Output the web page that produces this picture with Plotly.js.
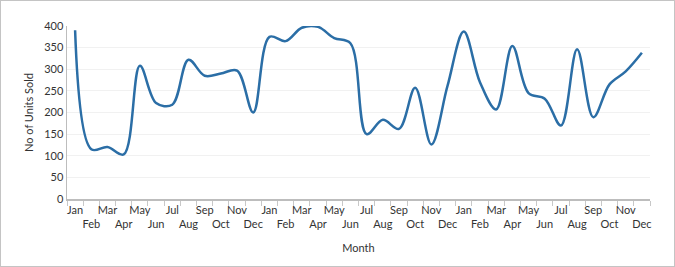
<!DOCTYPE html>
<html>
<head>
<meta charset="utf-8">
<script src="https://cdn.plot.ly/plotly-3.0.1.min.js"></script>
<style>
  html, body { margin: 0; padding: 0; background: #fff; }
  #wrap { width: 675px; height: 267px; box-sizing: border-box; border: 1px solid #c4c4c4; position: relative; overflow: hidden; }
  #chart { position: absolute; left: -1px; top: -1px; width: 675px; height: 267px; }
</style>
</head>
<body>
<div id="wrap"><div id="chart"></div></div>
<script>
// Month labels for three consecutive years
const monthLabels = ["Jan","Feb","Mar","Apr","May","Jun","Jul","Aug","Sep","Oct","Nov","Dec",
                     "Jan","Feb","Mar","Apr","May","Jun","Jul","Aug","Sep","Oct","Nov","Dec",
                     "Jan","Feb","Mar","Apr","May","Jun","Jul","Aug","Sep","Oct","Nov","Dec"];
// Units sold per month
const unitsSold = [390,115,120,103,308,222,218,322,285,290,297,200,
                   375,365,396,398,372,360,150,183,162,257,126,262,
                   387,270,207,354,245,232,170,346,189,265,295,338];
const yTickVals = [0,50,100,150,200,250,300,350,400];

const xIds = monthLabels.map((m, i) => m + "-" + i);
const tickText = monthLabels.map((m, i) => (i % 2 === 0 ? m : "<br>" + m));

const fontFam = "Lato, 'Open Sans', sans-serif";

const trace = {
  x: xIds,
  y: unitsSold,
  type: "scatter",
  mode: "lines",
  line: { color: "#2b6ea6", width: 2.5, shape: "spline", smoothing: 1 },
  cliponaxis: false,
  hoverinfo: "x+y"
};

const layout = {
  width: 675, height: 267,
  margin: { l: 67, r: 25, t: 26, b: 68 },
  paper_bgcolor: "#fff", plot_bgcolor: "#fff",
  showlegend: false,
  font: { family: fontFam, size: 11, color: "#333" },
  xaxis: {
    type: "category",
    range: [-0.5, monthLabels.length - 0.5],
    tickmode: "array",
    tickvals: xIds,
    ticktext: tickText,
    tickson: "boundaries",
    ticks: "outside", ticklen: 5, tickcolor: "#c8c8c8", tickwidth: 1,
    showline: true, linecolor: "#bdbdbd", linewidth: 1.5,
    showgrid: false, zeroline: false,
    tickangle: 0,
    tickfont: { family: fontFam, size: 11, color: "#333" },
    title: { text: "Month", font: { family: fontFam, size: 11, color: "#333" }, standoff: 15 },
    automargin: false
  },
  yaxis: {
    range: [0, 400],
    tickmode: "array", tickvals: yTickVals,
    showline: true, linecolor: "#bdbdbd", linewidth: 1.5,
    showgrid: true, gridcolor: "#f1f1f1", gridwidth: 1,
    zeroline: false,
    ticks: "", ticklen: 0,
    tickfont: { family: fontFam, size: 11, color: "#333" },
    title: { text: "No of Units Sold", font: { family: fontFam, size: 11, color: "#333" }, standoff: 8 },
    automargin: false
  }
};

Plotly.newPlot("chart", [trace], layout, { displayModeBar: false, staticPlot: true });
</script>
</body>
</html>
